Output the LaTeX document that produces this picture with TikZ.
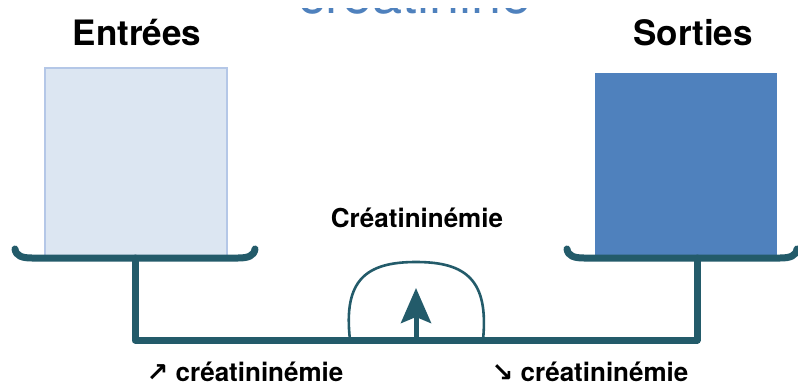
\documentclass[tikz,border=0pt]{standalone}
\usepackage{fontspec}
\setmainfont{TeX Gyre Heros}
\newfontfamily\arrowfont{DejaVu Sans}
\usetikzlibrary{positioning,arrows.meta}
\definecolor{tealline}{HTML}{235B6A}
\definecolor{inbox}{HTML}{DCE6F2}
\definecolor{inedge}{HTML}{B4C7E7}
\definecolor{outbox}{HTML}{4F81BD}

\begin{document}
\begin{tikzpicture}[x=0.5pt,y=-0.5pt]

    \tikzstyle{tray}=[draw=tealline,line width=3.5pt,line cap=round,line join=round]
    \tikzstyle{box}=[rectangle,minimum width=91pt,inner sep=0pt]
    \tikzstyle{headtext}=[anchor=base,font=\fontsize{17.5}{20}\selectfont\bfseries]
    \tikzstyle{smalltext}=[font=\fontsize{13}{15}\selectfont\bfseries]

    \useasboundingbox (0,0) rectangle (798,386);

    % title of the slide, only its lower edge shows
    \begin{scope}
        \clip (0,8) rectangle (798,386);
        \node[anchor=base,text=outbox,font=\fontsize{27}{30}\selectfont] (head) at (415,13) {créatinine};
    \end{scope}

    \node[box,minimum height=94pt,fill=inbox,draw=inedge,line width=0.6pt] (in)  at (136,162) {};
    \node[box,minimum height=91.5pt,fill=outbox]                           (out) at (686,164.5) {};

    \node[headtext] (intitle)  at (137,45) {Entrées};
    \node[headtext] (outtitle) at (693,45) {Sorties};

    % the two trays
    \draw[tray] (15,249) .. controls (16,256) and (22,258) .. (32,258) -- (238,258) .. controls (248,258) and (254,256) .. (255,249);
    \draw[tray] (567,249) .. controls (568,256) and (574,258) .. (584,258) -- (780,258) .. controls (790,258) and (796,256) .. (797,249);

    \coordinate (lstem) at (135,258);
    \coordinate (lfoot) at (135,340);
    \coordinate (rfoot) at (697,340);
    \coordinate (rstem) at (697,258);
    \coordinate (arrbase) at (416,340);
    \coordinate (arrtip)  at (416,288);

    \draw[tray] (lstem) -- (lfoot) -- (rfoot) -- (rstem);

    % dome and pointer
    \draw[draw=tealline,line width=1.3pt] (350,340) .. controls (343,280) and (366,262) .. (416,262) .. controls (466,262) and (489,280) .. (483,340);
    \draw[-{Stealth[length=17.5pt,width=15pt,inset=3pt]},draw=tealline,fill=tealline,line width=2.5pt] (arrbase) -- (arrtip);

    \node[smalltext] (crea) at (417,218) {Créatininémie};
    \node[smalltext] (up)   at (245,372) {{\arrowfont ↗} créatininémie};
    \node[smalltext] (down) at (590,372) {{\arrowfont ↘} créatininémie};

\end{tikzpicture}
\end{document}
